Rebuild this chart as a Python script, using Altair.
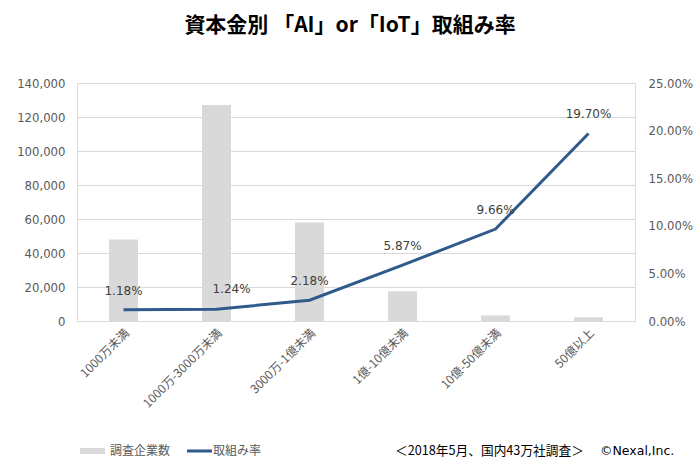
import altair as alt
import pandas as pd

categories = ["1000万未満", "1000万-3000万未満", "3000万-1億未満", "1億-10億未満", "10億-50億未満", "50億以上"]
companies = [47900, 127100, 57900, 17500, 3300, 2200]
rates = [0.0118, 0.0124, 0.0218, 0.0587, 0.0966, 0.1970]

df = pd.DataFrame({"cat": categories, "companies": companies, "rate": rates})

FONT_CJK = "Noto Sans CJK JP"
FONT_NUM = "DejaVu Sans"
BAR_COLOR = "#D9D9D9"
LINE_COLOR = "#305A8C"
LABEL_COLOR = "#595959"

x_enc = alt.X("cat:N", sort=categories, title=None,
              scale=alt.Scale(paddingInner=0, paddingOuter=0),
              axis=alt.Axis(labelAngle=-45, labelFont=FONT_CJK, labelFontSize=12,
                            labelColor=LABEL_COLOR, ticks=False, domain=False,
                            labelPadding=6, grid=False))

base = alt.Chart(df)

bars = base.mark_bar(size=29, color=BAR_COLOR).encode(
    x=x_enc,
    y=alt.Y("companies:Q", title=None,
            scale=alt.Scale(domain=[0, 140000], nice=False),
            axis=alt.Axis(values=list(range(0, 140001, 20000)), format=",.0f",
                          labelFont=FONT_NUM, labelFontSize=11.7, labelColor=LABEL_COLOR,
                          ticks=False, domain=False, labelPadding=12,
                          grid=True, gridColor="#D9D9D9", gridWidth=1))
)

y_rate = alt.Y("rate:Q", title=None,
               scale=alt.Scale(domain=[0, 0.25], nice=False),
               axis=alt.Axis(orient="right", values=[0, 0.05, 0.10, 0.15, 0.20, 0.25],
                             format=".2%", labelFont=FONT_NUM, labelFontSize=11.7,
                             labelColor=LABEL_COLOR, ticks=False, domain=False,
                             labelPadding=13, grid=False))

line = base.mark_line(color=LINE_COLOR, strokeWidth=3).encode(x=x_enc, y=y_rate)

labels_main = base.transform_filter(
    alt.datum.cat != "1000万-3000万未満"
).mark_text(font=FONT_NUM, fontSize=12, color="#404040", dy=-19).encode(
    x=x_enc, y=y_rate, text=alt.Text("rate:Q", format=".2%"))

labels_nudged = base.transform_filter(
    alt.datum.cat == "1000万-3000万未満"
).mark_text(font=FONT_NUM, fontSize=12, color="#404040", dy=-20, dx=15).encode(
    x=x_enc, y=y_rate, text=alt.Text("rate:Q", format=".2%"))

rate_layer = alt.layer(line, labels_main, labels_nudged)

# legend / footer (drawn below the plot area)
leg_rect = alt.Chart(pd.DataFrame({"k": [0]})).mark_rect(color=BAR_COLOR).encode(
    x=alt.value(3), x2=alt.value(28), y=alt.value(365), y2=alt.value(371))
leg_text1 = alt.Chart(pd.DataFrame({"t": ["調査企業数"]})).mark_text(
    font=FONT_CJK, fontSize=12, color=LABEL_COLOR, align="left", baseline="middle").encode(
    x=alt.value(33), y=alt.value(368), text="t:N")
leg_line = alt.Chart(pd.DataFrame({"k": [0]})).mark_rule(color=LINE_COLOR, strokeWidth=3).encode(
    x=alt.value(110), x2=alt.value(135), y=alt.value(368))
leg_text2 = alt.Chart(pd.DataFrame({"t": ["取組み率"]})).mark_text(
    font=FONT_CJK, fontSize=12, color=LABEL_COLOR, align="left", baseline="middle").encode(
    x=alt.value(136), y=alt.value(368), text="t:N")
foot1 = alt.Chart(pd.DataFrame({"t": ["＜2018年5月、国内43万社調査＞"]})).mark_text(
    font=FONT_CJK, fontSize=12.7, color="#000000", align="left", baseline="middle").encode(
    x=alt.value(318), y=alt.value(368), text="t:N")
foot2 = alt.Chart(pd.DataFrame({"t": ["©Nexal,Inc."]})).mark_text(
    font=FONT_NUM, fontSize=12.5, color="#000000", align="left", baseline="middle").encode(
    x=alt.value(523), y=alt.value(368), text="t:N")

chart = alt.layer(
    bars, rate_layer, leg_rect, leg_text1, leg_line, leg_text2, foot1, foot2
).resolve_scale(y="independent").properties(
    width=558, height=238,
    autosize=alt.AutoSizeParams(type="none"),
    padding={"left": 77, "top": 83, "right": 65, "bottom": 150},
    title=alt.TitleParams("資本金別 「AI」or「IoT」取組み率", font=FONT_CJK, fontSize=21,
                          fontWeight="bold", color="#000000", offset=42, dx=-6, anchor="middle"),
).configure_view(stroke=None).configure(background="white")

chart.save("out.html", embed_options={"renderer": "svg", "actions": False})
